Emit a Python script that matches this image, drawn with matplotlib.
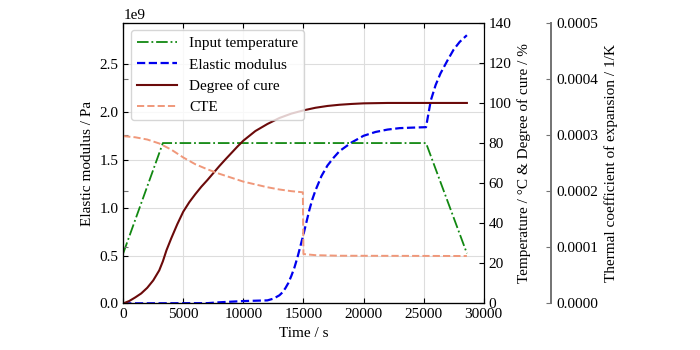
import matplotlib.pyplot as plt

plt.rcParams['font.family'] = ['Liberation Serif', 'DejaVu Serif']
plt.rcParams['font.size'] = 11

# --- data ---
t_temp = [0, 3300, 25200, 28600]
temp_input = [25, 80, 80, 25]

t_cure = [0, 500, 1000, 1500, 2000, 2500, 3000, 3300, 3600, 4000, 4500,
          5000, 5500, 6000, 6500, 7000, 7500, 8000, 8500, 9000, 9500, 10000,
          11000, 12000, 13000, 14000, 15000, 16000, 17000, 18000, 19000,
          20000, 22000, 28600]
cure = [0, 1.2, 3, 5, 7.8, 11.5, 16.5, 21, 26.5, 32.5, 39.5, 45.8, 50.5,
        54.5, 58.2, 61.5, 65, 68.5, 71.8, 75, 78.2, 81.2, 86, 89.5, 92.5,
        94.7, 96.3, 97.6, 98.5, 99.1, 99.5, 99.8, 100, 100]

t_mod = [0, 7000, 8000, 10000, 12000, 12500, 13000, 13250, 13500, 13750,
         14000, 14250, 14500, 14750, 15000, 15250, 15500, 15750, 16000,
         16500, 17000, 17500, 18000, 19000, 20000, 21000, 22000, 23000,
         24000, 25200, 25400, 25600, 26000, 26400, 27000, 27500, 28000,
         28600]
modulus = [0.001, 0.003, 0.012, 0.025, 0.032, 0.05, 0.085, 0.115, 0.16,
           0.215, 0.29, 0.375, 0.48, 0.6, 0.72, 0.85, 0.98, 1.09, 1.18,
           1.33, 1.44, 1.52, 1.59, 1.68, 1.75, 1.79, 1.815, 1.83, 1.835,
           1.84, 1.98, 2.12, 2.28, 2.40, 2.54, 2.65, 2.73, 2.80]
modulus = [m * 1e9 for m in modulus]

t_cte = [0, 1000, 2000, 3000, 4000, 5000, 6000, 7000, 8000, 9000, 10000,
         11000, 12000, 13000, 14000, 14950, 15000, 16000, 18000, 28600]
cte = [2.98, 2.96, 2.92, 2.85, 2.74, 2.60, 2.48, 2.39, 2.31, 2.24, 2.17,
       2.12, 2.07, 2.03, 2.00, 1.98, 0.88, 0.86, 0.85, 0.845]
cte = [c * 1e-4 for c in cte]

fig = plt.figure(figsize=(7, 3.5), dpi=100)
ax = fig.add_axes([0.176, 0.133, 0.515, 0.802])
ax2 = ax.twinx()
ax3 = ax.twinx()
ax3.spines['right'].set_position(('axes', 1.188))

ln_mod, = ax.plot(t_mod, modulus, color='#0000ee', ls='--', lw=1.6,
                  label='Elastic modulus')
ln_temp, = ax2.plot(t_temp, temp_input, color='#118811', ls='-.', lw=1.3,
                    label='Input temperature')
ln_cure, = ax2.plot(t_cure, cure, color='#6b0a0a', ls='-', lw=1.5,
                    label='Degree of cure')
ln_cte, = ax3.plot(t_cte, cte, color='#f0987a', ls='--', lw=1.4,
                   label='CTE')

ax.set_xlim(0, 30000)
ax.set_ylim(0, 2.93e9)
ax2.set_ylim(0, 140)
ax3.set_ylim(0, 0.0005)
ax3.set_yticks([0, 0.0001, 0.0002, 0.0003, 0.0004, 0.0005])
ax3.set_yticklabels(['0.0000', '0.0001', '0.0002', '0.0003', '0.0004', '0.0005'])

ax.grid(True, color='#dddddd', lw=0.8)
ax.set_axisbelow(True)

ax.tick_params(axis='both', direction='in', top=True)
ax2.tick_params(axis='y', direction='in')
ax3.tick_params(axis='y', direction='in', left=True, colors='0.45',
                labelcolor='black')
ax3.spines['right'].set_color('0.45')
ax3.spines['right'].set_linewidth(1.4)

ax.set_xlabel('Time / s')
ax.set_ylabel('Elastic modulus / Pa')
ax2.set_ylabel('Temperature / °C & Degree of cure / %')
ax3.set_ylabel('Thermal coefficient of expansion / 1/K')

leg = ax3.legend(handles=[ln_temp, ln_mod, ln_cure, ln_cte], loc='upper left',
                 fontsize=11, borderaxespad=0.5, handlelength=2.6)
leg.get_frame().set_edgecolor('#cccccc')

fig.savefig('out.png', dpi=100)
